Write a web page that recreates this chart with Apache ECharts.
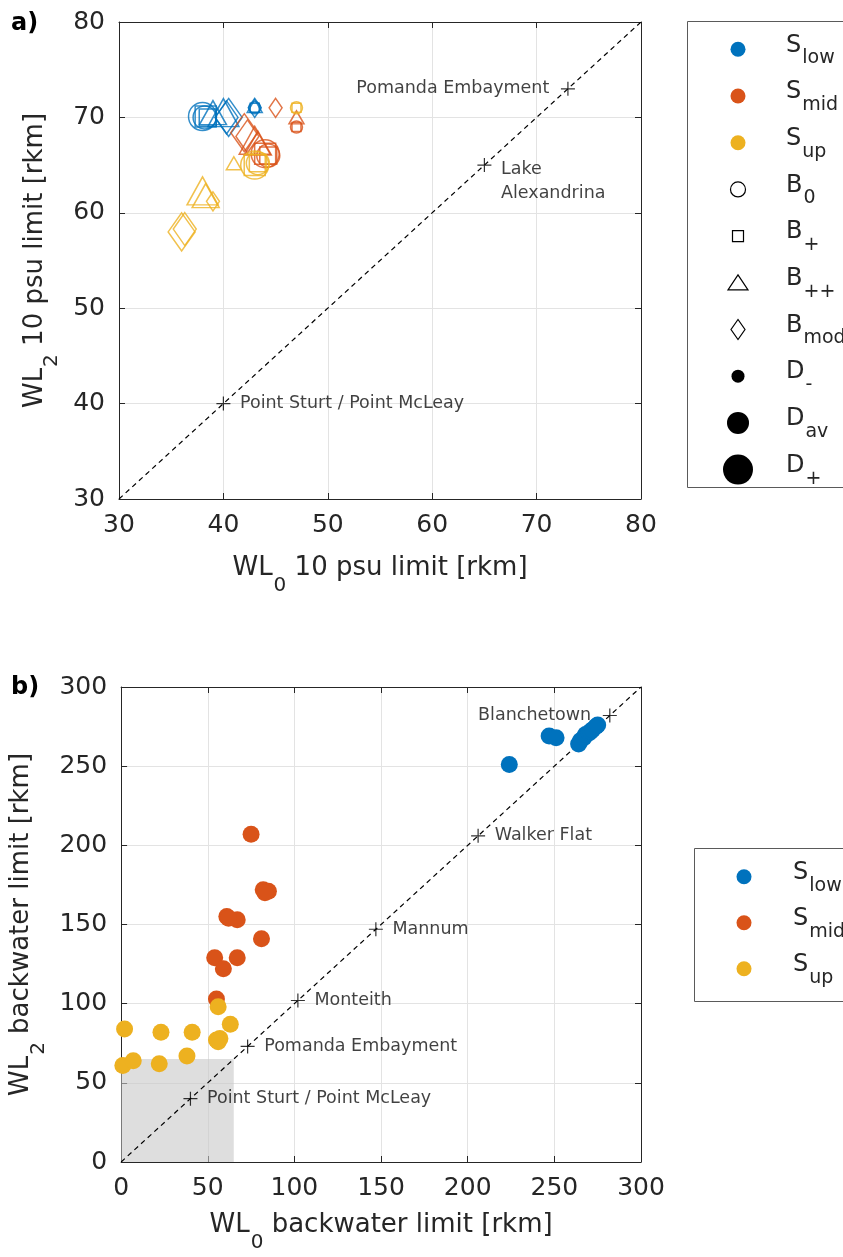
<!DOCTYPE html>
<html><head><meta charset="utf-8">
<script src="https://cdn.jsdelivr.net/npm/echarts@6/dist/echarts.min.js"></script>
<style>html,body{margin:0;padding:0;background:#fff}#c{width:843px;height:1257px}</style>
</head><body><div id="c"></div>
<script>
// ---------------- DATA ----------------
const scenLabels = ['low', 'mid', 'up'];
const bankLabels = ['0', '+', '++', 'mod'];
const depthLabels = ['-', 'av', '+'];

// Panel a: WL0 vs WL2 10 psu limit [rkm]; one entry per scenario (S, B, D)
const paX    = [43, 38.2, 38.0, 43, 38.5, 38.3, 43, 39.0, 40.0, 43, 40.3, 40.5,
                47, 44.3, 44.0, 47, 44.3, 44.0, 47, 43.3, 43.0, 45, 42.3, 42.0,
                47, 43.3, 43.0, 47, 43.3, 43.0, 41, 38.3, 38.0, 39, 36.3, 36.0];
const paY    = [71, 70.0, 70.1, 71, 70.0, 70.1, 71.2, 70.5, 70.5, 71, 70.0, 70.0,
                69, 66.0, 66.2, 69, 66.0, 66.2, 70, 67.3, 67.6, 71, 68.0, 68.4,
                71, 65.2, 65.0, 71, 65.2, 65.0, 65.2, 61.8, 62.3, 61.2, 58.3, 58.0];
const paScen = [0,0,0,0,0,0,0,0,0,0,0,0, 1,1,1,1,1,1,1,1,1,1,1,1, 2,2,2,2,2,2,2,2,2,2,2,2];
const paBank = [0,0,0,1,1,1,2,2,2,3,3,3, 0,0,0,1,1,1,2,2,2,3,3,3, 0,0,0,1,1,1,2,2,2,3,3,3];
const paDepth= [0,1,2,0,1,2,0,1,2,0,1,2, 0,1,2,0,1,2,0,1,2,0,1,2, 0,1,2,0,1,2,0,1,2,0,1,2];

// Panel b: WL0 vs WL2 backwater limit [rkm]
const pbX_low = [224, 247, 251, 264, 265, 267, 268, 270, 271, 272, 274, 275];
const pbY_low = [251, 269, 268, 264, 266, 268, 270, 271, 272, 273, 275, 276];
const pbX_mid = [75, 82, 85, 61, 67, 81, 54, 67, 59, 55, 62, 83];
const pbY_mid = [207, 172, 171, 155, 153, 141, 129, 129, 122, 103, 154, 170];
const pbX_up  = [56, 2, 23, 41, 63, 55, 57, 1, 7, 22, 38, 56];
const pbY_up  = [98, 84, 82, 82, 87, 77, 78, 61, 64, 62, 67, 76];

// Reference locations on the 1:1 line
const refA_names = ['Pomanda Embayment', 'Lake\nAlexandrina', 'Point Sturt / Point McLeay'];
const refA_vals  = [73, 65, 40];
const refB_names = ['Point Sturt / Point McLeay', 'Pomanda Embayment', 'Monteith', 'Mannum', 'Walker Flat', 'Blanchetown'];
const refB_vals  = [40, 73, 102, 147, 206, 282];

// Shaded region in panel b
const shadeMax = [65, 65];

// Axis ranges / ticks
const axA = {min: 30, max: 80, interval: 10};
const axB = {min: 0, max: 300, interval: 50};

// ---------------- STYLE ----------------
const FONT = '"DejaVu Sans", "Liberation Sans", sans-serif';
const AX = '#262626';
const scenColors = ['#0072BD', '#D95319', '#EDB120'];
const shapeSym = ['circle', 'rect', 'triangle', 'diamond'];
const sizeTable = [
  [12, 23, 28],
  [9, 17, 21],
  [[15,13], [27,24], [31,28]],
  [[13,19], [23,33], [27,38]]
];
const PLUS = 'path://M0,7L14,7M7,0L7,14';

const chart = echarts.init(document.getElementById('c'), null, {renderer: 'canvas'});

const nameRich = {
  m: {fontFamily: FONT, fontSize: 26, color: AX, verticalAlign: 'middle'},
  s: {fontFamily: FONT, fontSize: 20, color: AX, verticalAlign: 'middle', padding: [35, 0, 0, 1]}
};

function mainAxis(grid, rng, pos, name, gap) {
  return {
    gridIndex: grid, type: 'value', min: rng.min, max: rng.max, interval: rng.interval, position: pos,
    axisLine: {show: true, onZero: false, lineStyle: {color: AX, width: 1}},
    axisTick: {show: true, inside: true, length: 6, lineStyle: {color: AX}},
    axisLabel: {fontFamily: FONT, fontSize: 25, color: AX, margin: (pos === 'left' ? 14 : 14)},
    splitLine: {show: true, lineStyle: {color: '#e3e3e3', width: 1}},
    name: name, nameLocation: 'middle', nameGap: gap,
    nameRotate: (pos === 'left' ? 90 : 0),
    nameTextStyle: {rich: nameRich}
  };
}
function boxAxis(grid, rng, pos) {
  return {
    gridIndex: grid, type: 'value', min: rng.min, max: rng.max, interval: rng.interval, position: pos,
    axisLine: {show: true, onZero: false, lineStyle: {color: AX, width: 1}},
    axisTick: {show: true, inside: true, length: 6, lineStyle: {color: AX}},
    axisLabel: {show: false}, splitLine: {show: false}
  };
}

const series = [];
// 1:1 lines
series.push({type: 'line', xAxisIndex: 0, yAxisIndex: 0, data: [[axA.min, axA.min], [axA.max, axA.max]],
  symbol: 'none', silent: true, z: 1, lineStyle: {color: '#000', width: 1.2, type: [5, 4]}});
series.push({type: 'line', xAxisIndex: 2, yAxisIndex: 2, data: [[axB.min, axB.min], [axB.max, axB.max]],
  symbol: 'none', silent: true, z: 1, lineStyle: {color: '#000', width: 1.2, type: [5, 4]},
  markArea: {silent: true, itemStyle: {color: 'rgba(200,200,200,0.6)'},
    data: [[{coord: [0, 0]}, {coord: shadeMax}]]}});

// Panel a scatter (hollow markers)
for (let s = 0; s < 3; s++) {
  for (let b = 0; b < 4; b++) {
    const data = [];
    for (let i = 0; i < paX.length; i++) {
      if (paScen[i] === s && paBank[i] === b) data.push([paX[i], paY[i], paDepth[i]]);
    }
    series.push({
      type: 'scatter', xAxisIndex: 0, yAxisIndex: 0, symbol: shapeSym[b], z: 3,
      symbolSize: (function(bb){ return function(v){ return sizeTable[bb][v[2]]; }; })(b),
      itemStyle: {color: 'rgba(0,0,0,0)', borderColor: scenColors[s], borderWidth: 1.5},
      emphasis: {disabled: true}, data: data
    });
  }
}

// Panel b scatter (filled)
const pbSets = [[pbX_low, pbY_low], [pbX_mid, pbY_mid], [pbX_up, pbY_up]];
pbSets.forEach(function(set, s) {
  series.push({
    type: 'scatter', xAxisIndex: 2, yAxisIndex: 2, symbol: 'circle', symbolSize: 17, z: 3,
    itemStyle: {color: scenColors[s], opacity: 1}, emphasis: {disabled: true},
    data: set[0].map(function(x, i){ return [x, set[1][i]]; })
  });
});

// Reference sites
function refSeries(xi, yi, names, vals, leftIdx, special) {
  return {
    type: 'scatter', xAxisIndex: xi, yAxisIndex: yi, symbol: PLUS, symbolSize: 14, z: 5,
    itemStyle: {color: 'rgba(0,0,0,0)', borderColor: '#000', borderWidth: 1.2},
    emphasis: {disabled: true},
    label: {show: true, position: 'right', distance: 9, fontFamily: FONT, fontSize: 17.5, color: '#111',
      formatter: function(p){ return p.name; }},
    data: names.map(function(n, i){
      const d = {name: n, value: [vals[i], vals[i]]};
      if (i === leftIdx) d.label = {position: 'left', distance: 11};
      if (special && special[i]) d.label = special[i];
      return d;
    })
  };
}
series.push(refSeries(0, 0, refA_names, refA_vals, 0,
  {1: {position: 'right', distance: 9, offset: [0, 16], lineHeight: 24, align: 'left'}}));
series.push(refSeries(2, 2, refB_names, refB_vals, 5));

// ---------------- LEGENDS (graphic) ----------------
const legRich = {
  m: {fontFamily: FONT, fontSize: 24, fill: AX, color: AX, verticalAlign: 'middle'},
  s: {fontFamily: FONT, fontSize: 19, fill: AX, color: AX, verticalAlign: 'middle', padding: [26, 0, 0, 1]}
};
function legendGraphics(box, symX, textX, y0, step, items) {
  const g = [];
  g.push({type: 'rect', shape: {x: box[0], y: box[1], width: box[2], height: box[3]},
    style: {fill: '#fff', stroke: '#5a5a5a', lineWidth: 1}, z: 10});
  items.forEach(function(it, i) {
    const cy = y0 + i * step;
    const stroke = {fill: 'none', stroke: '#000', lineWidth: 1.2};
    let el;
    if (it.k === 'dot') el = {type: 'circle', shape: {cx: symX, cy: cy, r: it.r}, style: {fill: it.c}};
    else if (it.k === 'circle') el = {type: 'circle', shape: {cx: symX, cy: cy, r: 7.5}, style: stroke};
    else if (it.k === 'rect') el = {type: 'rect', shape: {x: symX - 5.5, y: cy - 5.5, width: 11, height: 11}, style: stroke};
    else if (it.k === 'triangle') el = {type: 'polygon', shape: {points: [[symX, cy - 8], [symX - 10, cy + 7], [symX + 10, cy + 7]]}, style: stroke};
    else el = {type: 'polygon', shape: {points: [[symX, cy - 10], [symX - 7, cy], [symX, cy + 10], [symX + 7, cy]]}, style: stroke};
    el.z = 11;
    g.push(el);
    g.push({type: 'text', x: textX, y: cy - 4, z: 11,
      style: {text: '{m|' + it.m + '}{s|' + it.s + '}', rich: legRich, align: 'left', verticalAlign: 'middle'}});
  });
  return g;
}
const legA = [];
scenLabels.forEach(function(l, i){ legA.push({k: 'dot', c: scenColors[i], r: 7.5, m: 'S', s: l}); });
bankLabels.forEach(function(l, i){ legA.push({k: shapeSym[i], m: 'B', s: l}); });
const dotR = [6.5, 11, 15];
depthLabels.forEach(function(l, i){ legA.push({k: 'dot', c: '#000', r: dotR[i], m: 'D', s: l}); });
const legB = scenLabels.map(function(l, i){ return {k: 'dot', c: scenColors[i], r: 7.5, m: 'S', s: l}; });

const graphics = [].concat(
  legendGraphics([687.5, 21.5, 200, 466], 738, 786, 49.3, 46.7, legA),
  legendGraphics([694.5, 848.5, 200, 153], 744, 793, 876.7, 46, legB),
  [{type: 'text', x: 11, y: 24, z: 11, style: {text: 'a)', fontFamily: FONT, fontSize: 24, fontWeight: 'bold', fill: '#000', verticalAlign: 'middle'}},
   {type: 'text', x: 11, y: 688, z: 11, style: {text: 'b)', fontFamily: FONT, fontSize: 24, fontWeight: 'bold', fill: '#000', verticalAlign: 'middle'}}]
);

chart.setOption({
  animation: false,
  backgroundColor: '#fff',
  grid: [
    {left: 119, top: 22, width: 522, height: 477, show: false},
    {left: 119, top: 687, width: 522, height: 475, show: false}
  ],
  xAxis: [
    mainAxis(0, axA, 'bottom', '{m|WL}{s|0}{m| 10 psu limit [rkm]}', 42),
    boxAxis(0, axA, 'top'),
    mainAxis(1, axB, 'bottom', '{m|WL}{s|0}{m| backwater limit [rkm]}', 36),
    boxAxis(1, axB, 'top')
  ],
  yAxis: [
    mainAxis(0, axA, 'left', '{m|WL}{s|2}{m| 10 psu limit [rkm]}', 42),
    boxAxis(0, axA, 'right'),
    mainAxis(1, axB, 'left', '{m|WL}{s|2}{m| backwater limit [rkm]}', 54),
    boxAxis(1, axB, 'right')
  ],
  series: series,
  graphic: graphics
});
</script>
</body></html>
